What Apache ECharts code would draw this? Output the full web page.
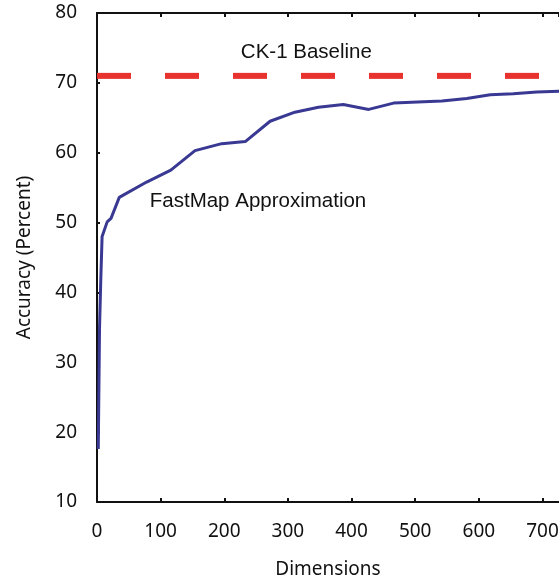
<!DOCTYPE html>
<html>
<head>
<meta charset="utf-8">
<script src="https://cdn.jsdelivr.net/npm/echarts@6/dist/echarts.min.js"></script>
<style>
  html, body { margin: 0; padding: 0; background: #fff; }
  #chart { width: 559px; height: 582px; }
</style>
</head>
<body>
<div id="chart"></div>
<script>
// FastMap approximation accuracy vs. number of dimensions
var dims = [2, 4, 6, 8, 16, 22, 35, 78, 116, 154, 196, 233, 272, 311, 348, 387, 427, 466, 542, 581, 618, 654, 691, 726]
var accuracy = [17.6, 35, 42, 48, 50.1, 50.6, 53.6, 55.8, 57.5, 60.3, 61.3, 61.6, 64.5, 65.8, 66.5, 66.9, 66.2, 67.1, 67.4, 67.75, 68.3, 68.45, 68.7, 68.8]
var baseline = 71 // CK-1 baseline accuracy
var xMax = 726

var tickFont = { fontFamily: 'Noto Sans', fontSize: 19, color: '#111' }
var noteFont = { fontFamily: 'Liberation Sans', fontSize: 20.5, color: '#111' }

var chart = echarts.init(document.getElementById('chart'))

var fastmap = dims.map(function(d, i) { return [d, accuracy[i]] })

chart.setOption({
  animation: false,
  grid: { left: 97, top: 13, right: 0, bottom: 80, outerBoundsMode: 'none', containLabel: false },
  xAxis: [{
    type: 'value',
    min: 0,
    max: xMax,
    interval: 100,
    name: 'Dimensions',
    nameLocation: 'middle',
    nameGap: 58,
    nameTextStyle: { fontFamily: 'Noto Sans', fontSize: 19, color: '#111' },
    axisLine: { lineStyle: { color: '#111', width: 2 } },
    axisTick: { inside: true, length: 4, lineStyle: { color: '#111', width: 2 } },
    axisLabel: Object.assign({ margin: 20, showMaxLabel: false,
      formatter: function(v) { return v % 100 === 0 ? v : '' } }, tickFont),
    splitLine: { show: false }
  }, {
    type: 'value',
    position: 'top',
    min: 0,
    max: xMax,
    interval: 100,
    axisLine: { onZero: false, lineStyle: { color: '#111', width: 2 } },
    axisTick: { inside: true, length: 4, lineStyle: { color: '#111', width: 2 } },
    axisLabel: { show: false },
    splitLine: { show: false }
  }],
  yAxis: {
    type: 'value',
    min: 10,
    max: 80,
    interval: 10,
    name: 'Accuracy (Percent)',
    nameLocation: 'middle',
    nameGap: 63,
    nameTextStyle: { fontFamily: 'Noto Sans', fontSize: 19, color: '#111' },
    axisLine: { show: true, lineStyle: { color: '#111', width: 2 } },
    axisTick: { show: true, inside: true, length: 3, lineStyle: { color: '#111', width: 2 } },
    axisLabel: Object.assign({ margin: 20 }, tickFont),
    splitLine: { show: false }
  },
  series: [{
    name: 'CK-1 Baseline',
    type: 'line',
    data: [[0, baseline], [xMax, baseline]],
    symbol: 'none',
    lineStyle: { color: '#e8322e', width: 6, type: [34, 34], cap: 'butt' },
    markPoint: {
      symbol: 'circle',
      symbolSize: 0,
      data: [{ coord: [329, 74.4] }],
      label: Object.assign({ show: true, formatter: 'CK-1 Baseline' }, noteFont)
    }
  }, {
    name: 'FastMap Approximation',
    type: 'line',
    data: fastmap,
    symbol: 'none',
    lineStyle: { color: '#393994', width: 3 },
    markPoint: {
      symbol: 'circle',
      symbolSize: 0,
      data: [{ coord: [253, 53.1] }],
      label: Object.assign({ show: true, formatter: 'FastMap Approximation' }, noteFont)
    }
  }]
})
</script>
</body>
</html>
